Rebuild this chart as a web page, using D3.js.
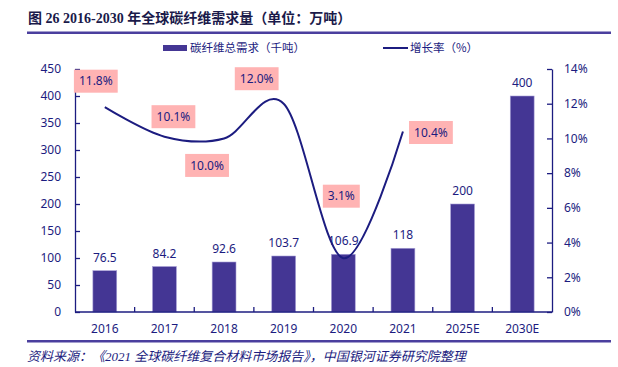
<!DOCTYPE html>
<html>
<head>
<meta charset="utf-8">
<script src="https://cdn.jsdelivr.net/npm/d3@7"></script>
<style>
  html, body { margin: 0; padding: 0; background: #fff; }
  svg { display: block; }
</style>
</head>
<body>
<svg id="chart" width="618" height="367"></svg>
<script>
// data
const categories = ["2016", "2017", "2018", "2019", "2020", "2021", "2025E", "2030E"];
const demand     = [76.5, 84.2, 92.6, 103.7, 106.9, 118, 200, 400];   // 千吨
const rateYears  = ["2016", "2017", "2018", "2019", "2020", "2021"];
const growthRate = [11.8, 10.1, 10.0, 12.0, 3.1, 10.4];              // %
const leftTicks  = [0, 50, 100, 150, 200, 250, 300, 350, 400, 450];
const rightTicks = [0, 2, 4, 6, 8, 10, 12, 14];

// label offsets for the pink rate boxes (dx, dy from the point)
const rateLabelOffset = [[-9, -26], [9, -20], [-17, 27], [-27, -25], [-2, -62], [28, 1]];

const NAVY   = "#1c1c80";
const BAR    = "#443694";
const PINK   = "#ffb3b3";
const CJK    = "'Noto Sans CJK SC', 'Noto Sans', sans-serif";
const LATIN  = "'Noto Sans', 'Noto Sans CJK SC', sans-serif";

const PLOT = { left: 75, right: 552, top: 69, bottom: 312 };

const svg = d3.select("#chart");

// title
svg.append("text")
  .attr("x", 28).attr("y", 23)
  .style("font-family", "'Liberation Serif', 'Noto Sans CJK SC', serif")
  .style("font-weight", "bold")
  .style("font-size", "14px")
  .style("fill", "#1a1a4a")
  .text("图 26 2016-2030 年全球碳纤维需求量（单位：万吨）");

svg.append("rect")
  .attr("x", 27).attr("y", 31.5).attr("width", 584).attr("height", 2.5)
  .style("fill", "#4b3f9e");

// footer
svg.append("rect")
  .attr("x", 27).attr("y", 340).attr("width", 584).attr("height", 2.5)
  .style("fill", "#4b3f9e");

svg.append("text")
  .attr("x", 27).attr("y", 361)
  .style("font-family", "'Liberation Serif', 'Noto Sans CJK SC', serif")
  .style("font-style", "italic")
  .style("font-size", "13px")
  .style("fill", NAVY)
  .text("资料来源：《2021 全球碳纤维复合材料市场报告》，中国银河证券研究院整理");

// scales
const x = d3.scaleBand()
  .domain(categories)
  .range([PLOT.left, PLOT.right])
  .paddingInner(0.6)
  .paddingOuter(0.3);

const yLeft = d3.scaleLinear().domain([0, 450]).range([PLOT.bottom, PLOT.top]);
const yRight = d3.scaleLinear().domain([0, 14]).range([PLOT.bottom, PLOT.top]);

// bars
svg.append("g").selectAll("rect")
  .data(categories.map((c, i) => ({ c, v: demand[i] })))
  .enter().append("rect")
  .attr("x", d => x(d.c))
  .attr("y", d => yLeft(d.v))
  .attr("width", x.bandwidth())
  .attr("height", d => yLeft(0) - yLeft(d.v))
  .style("fill", BAR)
  .style("stroke", "#a79fd6")
  .style("stroke-width", 0.6);

svg.append("g").selectAll("text")
  .data(categories.map((c, i) => ({ c, v: demand[i] })))
  .enter().append("text")
  .attr("x", d => x(d.c) + x.bandwidth() / 2)
  .attr("y", d => yLeft(d.v) - 9)
  .attr("text-anchor", "middle")
  .style("font-family", LATIN)
  .style("font-size", "12px")
  .style("fill", NAVY)
  .text(d => d.v);

// axes
function styleAxis(g) {
  g.selectAll("path, line").style("stroke", NAVY).style("stroke-width", 1.3);
  g.selectAll("text")
    .style("font-family", LATIN)
    .style("font-size", "12px")
    .style("fill", NAVY);
}

svg.append("g")
  .attr("transform", `translate(${PLOT.left},0)`)
  .call(d3.axisLeft(yLeft).tickValues(leftTicks).tickSizeInner(-5).tickSizeOuter(0).tickPadding(14))
  .call(styleAxis);

svg.append("g")
  .attr("transform", `translate(${PLOT.right},0)`)
  .call(d3.axisRight(yRight).tickValues(rightTicks).tickSizeInner(-5).tickSizeOuter(0)
    .tickPadding(12).tickFormat(d => d + "%"))
  .call(styleAxis)
  .selectAll(".tick text").attr("text-anchor", "start");

const xAxis = svg.append("g")
  .attr("transform", `translate(0,${PLOT.bottom})`)
  .call(d3.axisBottom(x).tickSize(0).tickPadding(12))
  .call(styleAxis);
xAxis.select(".domain").remove();
xAxis.append("line")
  .attr("x1", PLOT.left).attr("x2", PLOT.right)
  .style("stroke", NAVY).style("stroke-width", 1.3);
xAxis.selectAll(".boundary")
  .data(d3.range(1, categories.length))
  .enter().append("line")
  .attr("class", "boundary")
  .attr("x1", i => PLOT.left + i * x.step())
  .attr("x2", i => PLOT.left + i * x.step())
  .attr("y1", 0).attr("y2", -5)
  .style("stroke", NAVY).style("stroke-width", 1.3);

// growth rate line
const ratePts = rateYears.map((c, i) => ({
  c, v: growthRate[i],
  px: x(c) + x.bandwidth() / 2,
  py: yRight(growthRate[i])
}));

svg.append("path")
  .datum(ratePts)
  .attr("d", d3.line().x(d => d.px).y(d => d.py).curve(d3.curveCardinal.tension(0)))
  .style("fill", "none")
  .style("stroke", NAVY)
  .style("stroke-width", 2);

const rateLabels = svg.append("g").selectAll("g")
  .data(ratePts)
  .enter().append("g")
  .attr("transform", (d, i) =>
    `translate(${d.px + rateLabelOffset[i][0]},${d.py + rateLabelOffset[i][1]})`);

rateLabels.append("rect").attr("class", "box").style("fill", PINK);
rateLabels.append("text")
  .attr("text-anchor", "middle")
  .attr("dy", "0.35em")
  .style("font-family", LATIN)
  .style("font-size", "12px")
  .style("fill", NAVY)
  .text(d => d.v.toFixed(1) + "%");

rateLabels.each(function () {
  const g = d3.select(this);
  const bb = g.select("text").node().getBBox();
  g.select("rect")
    .attr("x", -bb.width / 2 - 5)
    .attr("y", -11.5)
    .attr("width", bb.width + 10)
    .attr("height", 23);
});

// legend
const legend = svg.append("g").attr("transform", "translate(0,48)");
legend.append("rect")
  .attr("x", 163).attr("y", -3).attr("width", 24).attr("height", 6)
  .style("fill", BAR);
legend.append("text")
  .attr("x", 190).attr("y", 0).attr("dy", "0.35em")
  .style("font-family", CJK).style("font-size", "11.5px").style("fill", NAVY)
  .text("碳纤维总需求（千吨）");
legend.append("line")
  .attr("x1", 383).attr("x2", 408).attr("y1", 0).attr("y2", 0)
  .style("stroke", NAVY).style("stroke-width", 2);
legend.append("text")
  .attr("x", 410).attr("y", 0).attr("dy", "0.35em")
  .style("font-family", CJK).style("font-size", "11.5px").style("fill", NAVY)
  .text("增长率（%）");
</script>
</body>
</html>
